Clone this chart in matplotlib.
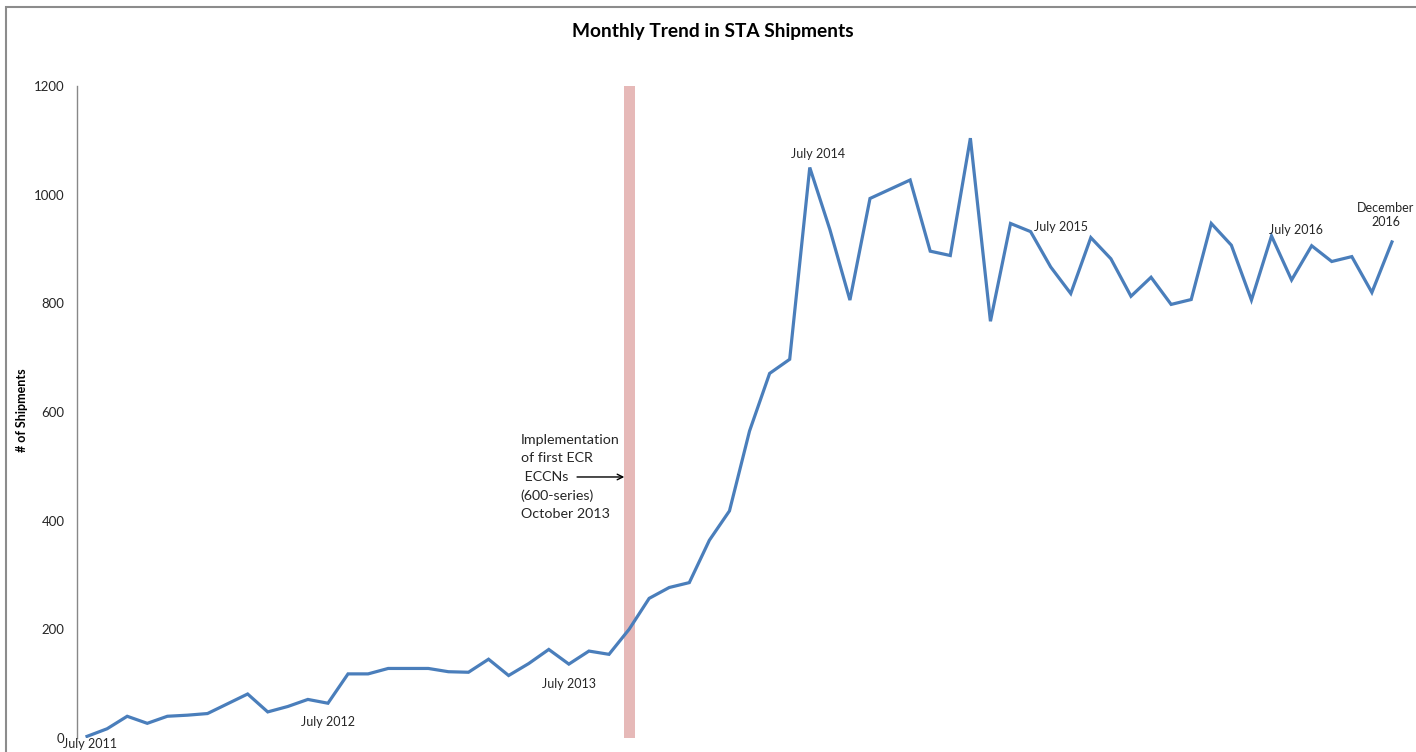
import matplotlib
matplotlib.use("Agg")
import matplotlib.pyplot as plt
from matplotlib.patches import Rectangle

# ---- data ----
months = list(range(66))  # July 2011 .. December 2016
shipments = [3, 17, 40, 27, 40, 42, 45, 63, 81, 48, 58, 71, 64,
             118, 118, 128, 128, 128, 122, 121, 145, 115, 137, 163, 136,
             160, 154, 200, 257, 277, 286, 364, 418, 565, 671, 697,
             1050, 936, 806, 993, 1010, 1027, 896, 888, 1104, 767, 947, 932,
             867, 818, 921, 882, 813, 848, 798, 807, 947, 907, 806, 924,
             843, 906, 877, 886, 820, 913]
label_texts = ["July 2011", "July 2012", "July 2013", "July 2014",
               "July 2015", "July 2016", "December\n2016"]
label_x = [0.15, 12.0, 24.0, 36.4, 48.5, 60.2, 64.7]
label_y = [-11, 29, 99, 1075, 940, 935, 963]
yticks = [0, 200, 400, 600, 800, 1000, 1200]
event_month = 27  # October 2013
event_text = "Implementation\nof first ECR\n ECCNs\n(600-series)\nOctober 2013"

FONT = ["Lato", "DejaVu Sans"]
plt.rcParams['font.family'] = FONT

fig = plt.figure(figsize=(14.16, 7.52), dpi=100)
fig.patch.set_facecolor("white")

# outer chart border
fig.patches.append(Rectangle((6 / 1416, -0.05), 1.2, (752 - 7) / 752 + 0.05,
                             transform=fig.transFigure, fill=False,
                             edgecolor="#8c8c8c", linewidth=1.5, zorder=0))

ax = fig.add_axes([77 / 1416, 1 - 738 / 752, (1402 - 77) / 1416, (738 - 86) / 752])
ax.set_xlim(-0.5, 65.5)
ax.set_ylim(0, 1200)

ax.axvspan(event_month - 0.27, event_month + 0.27, color="#E6B9B8", zorder=1, lw=0)
ax.plot(months, shipments, color="#4A7EBB", linewidth=2.3, zorder=3,
        solid_joinstyle="miter")

for t, x, y in zip(label_texts, label_x, label_y):
    ax.text(x, y, t, ha="center", va="center", fontsize=9, color="#262626",
            clip_on=False, linespacing=1.25)

ax.text(21.6, (738 - 477) / 0.5433, event_text, ha="left", va="center",
        fontsize=10.3, color="#262626", linespacing=1.62)
ax.annotate("", xy=(26.9, (738 - 477) / 0.5433), xytext=(24.27, (738 - 477) / 0.5433),
            arrowprops=dict(arrowstyle="->", color="black", lw=1.0))

ax.set_yticks(yticks)
ax.set_yticklabels([str(v) for v in yticks])
ax.set_xticks([])
ax.tick_params(axis="y", length=0, pad=9, labelsize=9.5, labelcolor="#262626")
for s in ["top", "right", "bottom"]:
    ax.spines[s].set_visible(False)
ax.spines["left"].set_color("#888888")
ax.spines["left"].set_linewidth(1.0)

fig.text(22 / 1416, 1 - 410 / 752, "# of Shipments", rotation=90, ha="center",
         va="center", fontsize=9, fontweight="bold", color="black")
fig.text(713 / 1416, 1 - 31 / 752, "Monthly Trend in STA Shipments", ha="center",
         va="center", fontsize=13.8, fontweight="bold", color="black")

fig.savefig("out.png", dpi=100, facecolor="white")
